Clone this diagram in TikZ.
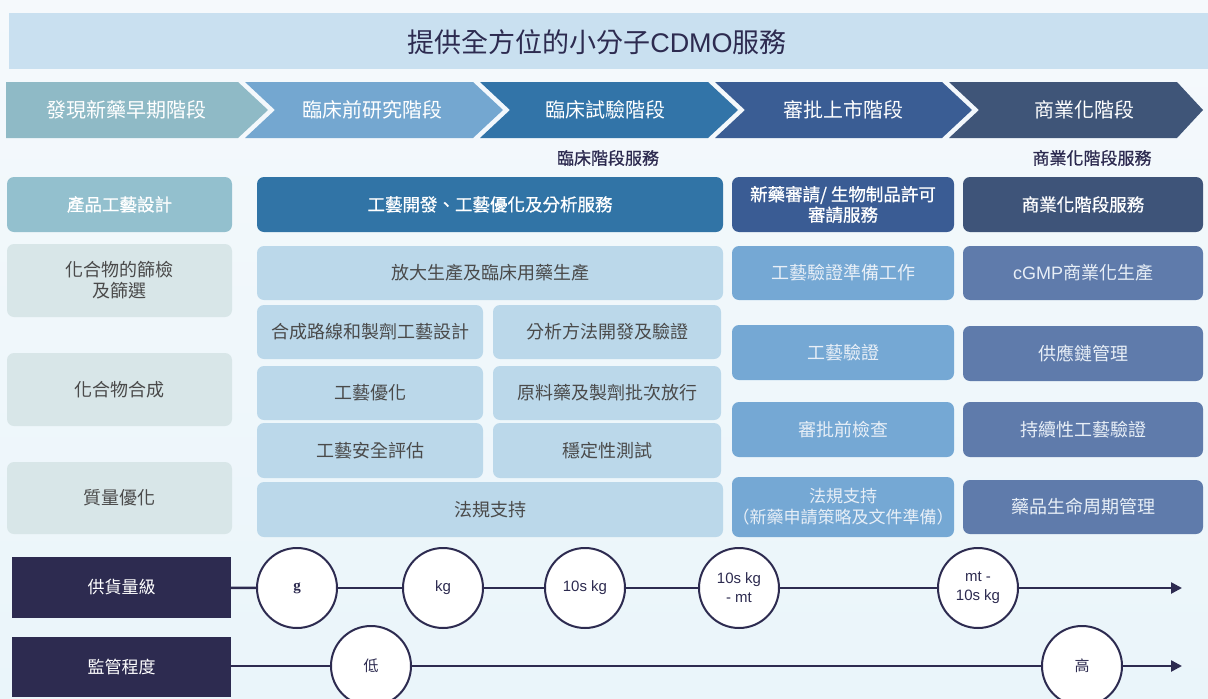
\documentclass[tikz,border=0pt]{standalone}
\usepackage{fontspec}
\setmainfont{Noto Sans CJK TC}
\newfontfamily\hdfont{Noto Sans CJK TC}[FakeBold=0.8]
\newfontfamily\lat{Liberation Sans}
\newfontfamily\latserif{Liberation Serif}
\usetikzlibrary{arrows.meta}
\definecolor{bgtop}{HTML}{F5F9FC}
\definecolor{bgbot}{HTML}{EAF5FA}
\definecolor{bannerc}{HTML}{C9E0F0}
\definecolor{navy}{HTML}{2D2B50}
\definecolor{chA}{HTML}{8FBAC6}
\definecolor{chB}{HTML}{74A7D0}
\definecolor{chC}{HTML}{3274A8}
\definecolor{chD}{HTML}{3A5D94}
\definecolor{chE}{HTML}{3F5578}
\definecolor{hA}{HTML}{93C0CE}
\definecolor{bA}{HTML}{D8E6E8}
\definecolor{hB}{HTML}{3174A6}
\definecolor{bB}{HTML}{BBD8EA}
\definecolor{hD}{HTML}{3A5C94}
\definecolor{bD}{HTML}{75A8D4}
\definecolor{hE}{HTML}{3E5479}
\definecolor{bE}{HTML}{5F7BAB}
\definecolor{txtgray}{HTML}{4A4A4A}
\definecolor{txtlight}{HTML}{E8EFF7}
\begin{document}
\begin{tikzpicture}[x=1pt,y=-1pt,
  titletext/.style={text=navy,font=\fontsize{27}{30}\selectfont},
  chtext/.style={text=white,font=\fontsize{20}{24}\selectfont},
  subhd/.style={text=navy,font=\hdfont\fontsize{17}{20}\selectfont},
  cell/.style={rectangle,rounded corners=7,inner sep=0,align=center,font=\fontsize{18}{21}\selectfont},
  hdcell/.style={cell,text=white,font=\hdfont\fontsize{17.5}{20.5}\selectfont},
  lbl/.style={rectangle,fill=navy,text=white,inner sep=0,minimum width=219,font=\fontsize{17}{20}\selectfont},
  circ/.style={circle,draw=navy,line width=2,fill=white,minimum size=80,inner sep=0,align=center,text=navy,font=\fontsize{15}{19}\selectfont},
  conn/.style={draw=navy,line width=2.5},
  tip/.style={-{Triangle[length=11,width=11]}}
]
\useasboundingbox (0,0) rectangle (1208,699);
\clip (0,0) rectangle (1208,699);
\shade[top color=bgtop,bottom color=bgbot] (0,0) rectangle (1208,699);

% title banner
\fill[bannerc] (9,13) rectangle (1208,69);
\node[titletext] (title) at (597,42) {提供全方位的小分子{\lat CDMO}服務};

% chevrons
\fill[chA] (6,82) -- (238,82) -- (268,110) -- (238,138) -- (6,138) -- cycle;
\fill[chB] (245,82) -- (473,82) -- (503,110) -- (473,138) -- (245,138) -- (275,110) -- cycle;
\fill[chC] (480,82) -- (708,82) -- (738,110) -- (708,138) -- (480,138) -- (510,110) -- cycle;
\fill[chD] (715,82) -- (942,82) -- (972,110) -- (942,138) -- (715,138) -- (745,110) -- cycle;
\fill[chE] (949,82) -- (1177,82) -- (1203,110) -- (1177,138) -- (949,138) -- (979,110) -- cycle;
\node[chtext] (s1) at (126,110) {發現新藥早期階段};
\node[chtext] (s2) at (372,110) {臨床前研究階段};
\node[chtext] (s3) at (605,110) {臨床試驗階段};
\node[chtext] (s4) at (843,110) {審批上市階段};
\node[chtext] (s5) at (1084,110) {商業化階段};

% sub headers
\node[subhd] (sub1) at (608,158) {臨床階段服務};
\node[subhd] (sub2) at (1092,158) {商業化階段服務};

% column 1
\node[hdcell,fill=hA,minimum width=225,minimum height=55] (a0) at (119.5,204.5) {產品工藝設計};
\node[cell,fill=bA,text=txtgray,minimum width=225,minimum height=73] (a1) at (119.5,280.5) {化合物的篩檢\\及篩選};
\node[cell,fill=bA,text=txtgray,minimum width=225,minimum height=73] (a2) at (119.5,389.5) {化合物合成};
\node[cell,fill=bA,text=txtgray,minimum width=225,minimum height=72] (a3) at (119.5,498) {質量優化};

% column 2
\node[hdcell,fill=hB,minimum width=466,minimum height=55] (b0) at (490,204.5) {工藝開發、工藝優化及分析服務};
\node[cell,fill=bB,text=txtgray,minimum width=466,minimum height=54] (b1) at (490,273) {放大生產及臨床用藥生產};
\node[cell,fill=bB,text=txtgray,minimum width=226,minimum height=54] (b2) at (370,332) {合成路線和製劑工藝設計};
\node[cell,fill=bB,text=txtgray,minimum width=228,minimum height=54] (b3) at (607,332) {分析方法開發及驗證};
\node[cell,fill=bB,text=txtgray,minimum width=226,minimum height=54] (b4) at (370,393) {工藝優化};
\node[cell,fill=bB,text=txtgray,minimum width=228,minimum height=54] (b5) at (607,393) {原料藥及製劑批次放行};
\node[cell,fill=bB,text=txtgray,minimum width=226,minimum height=55] (b6) at (370,450.5) {工藝安全評估};
\node[cell,fill=bB,text=txtgray,minimum width=228,minimum height=55] (b7) at (607,450.5) {穩定性測試};
\node[cell,fill=bB,text=txtgray,minimum width=466,minimum height=55] (b8) at (490,509.5) {法規支持};

% column 3 (approval)
\node[hdcell,fill=hD,minimum width=222,minimum height=55] (d0) at (843,204.5) {新藥審請/ 生物制品許可\\審請服務};
\node[cell,fill=bD,text=txtlight,minimum width=222,minimum height=54] (d1) at (843,273) {工藝驗證準備工作};
\node[cell,fill=bD,text=txtlight,minimum width=222,minimum height=55] (d2) at (843,352.5) {工藝驗證};
\node[cell,fill=bD,text=txtlight,minimum width=222,minimum height=55] (d3) at (843,429.5) {審批前檢查};
\node[cell,fill=bD,text=txtlight,minimum width=222,minimum height=60,font=\fontsize{17}{21}\selectfont] (d4) at (843,507) {法規支持\\（新藥申請策略及文件準備）};

% column 4 (commercial)
\node[hdcell,fill=hE,minimum width=240,minimum height=55] (e0) at (1083,204.5) {商業化階段服務};
\node[cell,fill=bE,text=txtlight,minimum width=240,minimum height=54] (e1) at (1083,273) {{\lat cGMP}商業化生產};
\node[cell,fill=bE,text=txtlight,minimum width=240,minimum height=55] (e2) at (1083,353.5) {供應鏈管理};
\node[cell,fill=bE,text=txtlight,minimum width=240,minimum height=55] (e3) at (1083,429.5) {持續性工藝驗證};
\node[cell,fill=bE,text=txtlight,minimum width=240,minimum height=54] (e4) at (1083,507) {藥品生命周期管理};

% supply scale row
\node[lbl,minimum height=61] (supply) at (121.5,587.5) {供貨量級};
\node[circ] (q1) at (297,588) {\latserif\bfseries g};
\node[circ] (q2) at (443,588) {\lat kg};
\node[circ] (q3) at (585,588) {\lat 10s kg};
\node[circ] (q4) at (739,588) {\lat 10s kg\\\lat - mt};
\node[circ] (q5) at (978,588) {\lat mt -\\\lat 10s kg};
\coordinate (qend) at (1182,588);
\draw[conn] (supply) -- (q1);
\draw[conn] (q1) -- (q2);
\draw[conn] (q2) -- (q3);
\draw[conn] (q3) -- (q4);
\draw[conn] (q4) -- (q5);
\draw[conn,tip] (q5) -- (qend);

% regulation row
\node[lbl,minimum height=60] (reg) at (121.5,667) {監管程度};
\node[circ] (lo) at (371,666) {低};
\node[circ] (hi) at (1082,666) {高};
\coordinate (rend) at (1182,666);
\draw[conn] (reg.east |- lo) -- (lo);
\draw[conn] (lo) -- (hi);
\draw[conn,tip] (hi) -- (rend);
\end{tikzpicture}
\end{document}
